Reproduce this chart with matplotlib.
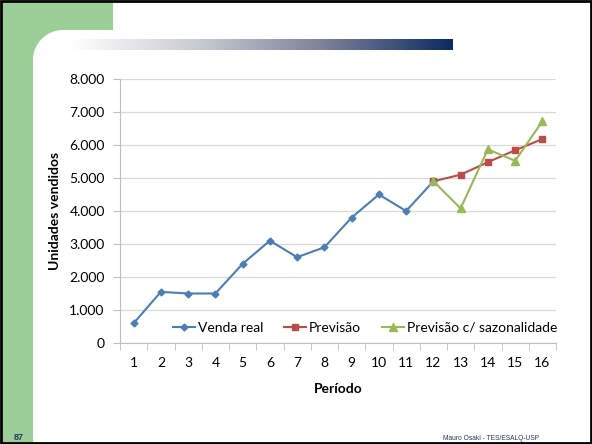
import matplotlib.pyplot as plt
import matplotlib.patches as mpatches
from matplotlib.colors import LinearSegmentedColormap
from matplotlib.ticker import FuncFormatter
import numpy as np

periodos = list(range(1, 17))
venda_real = [600, 1550, 1500, 1500, 2400, 3100, 2600, 2900, 3800, 4500, 4000, 4900]
prev_periodos = [12, 13, 14, 15, 16]
previsao = [4900, 5100, 5480, 5840, 6180]
sazonal = [4900, 4080, 5870, 5520, 6720]

W, H = 592, 444
fig = plt.figure(figsize=(W / 100, H / 100), dpi=100)
plt.rcParams['font.family'] = ['Lato', 'DejaVu Sans']

# slide background
bg = fig.add_axes([0, 0, 1, 1], zorder=-1)
bg.set_xlim(0, W)
bg.set_ylim(H, 0)
bg.axis('off')
green = '#9ccf98'
bg.add_patch(mpatches.Rectangle((3, 3), 110, 27, color=green, lw=0))
bg.add_patch(mpatches.Rectangle((3, 3), 30, H, color=green, lw=0))
bg.add_patch(mpatches.Rectangle((33, 30), 30, 30, color=green, lw=0))
bg.add_patch(mpatches.Circle((63, 60), 30, color='white', lw=0))
cmap = LinearSegmentedColormap.from_list('g', ['#ffffff', '#c9cbd3', '#7c8099', '#0b2c63'])
bg.imshow(np.linspace(0, 1, 256)[None, :], cmap=cmap, aspect='auto',
          extent=(70, 453, 50, 39), zorder=2)
bg.add_patch(mpatches.Rectangle((1, 1), W - 2.5, H - 2.5, fill=False, ec='black', lw=2))
bg.text(19, 437, '87', fontsize=6.5, fontweight='bold', color='#1f3864',
        family=['Liberation Sans'], ha='center', va='center')
bg.text(491, 438, 'Mauro Osaki - TES/ESALQ-USP', fontsize=4.8, color='#1f3864',
        family=['Liberation Sans'], ha='center', va='center')

# chart
ax = fig.add_axes([120 / W, (H - 343) / H, 436 / W, 264 / H])
ax.plot(periodos[:len(venda_real)], venda_real, color='#4a7ebb', marker='D', ms=3.5,
        lw=1.5, label='Venda real')
ax.plot(prev_periodos, previsao, color='#be4b48', marker='s', ms=5,
        lw=1.5, label='Previsão')
ax.plot(prev_periodos, sazonal, color='#98b954', marker='^', ms=5.5,
        lw=1.5, label='Previsão c/ sazonalidade')

ax.set_xlim(0.5, 16.5)
ax.set_ylim(0, 8000)
ax.set_yticks(range(0, 8001, 1000))
ax.yaxis.set_major_formatter(FuncFormatter(lambda v, p: f'{int(v):,}'.replace(',', '.')))
ax.set_xticks(periodos)
ax.set_xticks([p + 0.5 for p in [0] + periodos], minor=True)
ax.tick_params(axis='x', which='major', length=0, pad=10, labelsize=10)
ax.tick_params(axis='x', which='minor', length=5, color='#bfbfbf')
ax.tick_params(axis='y', length=5, color='#bfbfbf', labelsize=10, pad=6)
ax.grid(axis='y', color='#d9d9d9', lw=0.9)
ax.set_axisbelow(True)
for s in ['top', 'right']:
    ax.spines[s].set_visible(False)
ax.spines['left'].set_color('#bfbfbf')
ax.spines['bottom'].set_color('#bfbfbf')

ax.set_xlabel('Período', fontsize=10, fontweight='bold', labelpad=10)
ax.set_ylabel('Unidades vendidos', fontsize=10, fontweight='bold', labelpad=6)

ax.legend(loc='center', bbox_to_anchor=(0.562, 0.057), ncol=3, frameon=False,
          fontsize=10, handlelength=1.6, handletextpad=0.2, columnspacing=1.5)

fig.savefig('out.png', dpi=100)
